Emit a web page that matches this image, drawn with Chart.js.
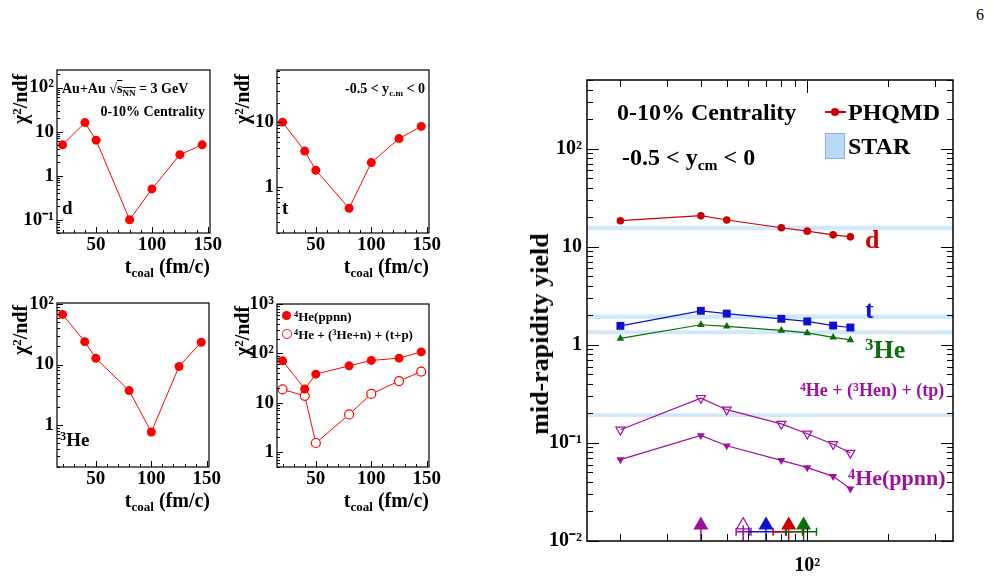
<!DOCTYPE html>
<html>
<head>
<meta charset="utf-8">
<script src="https://cdn.jsdelivr.net/npm/chart.js@4.4.0/dist/chart.umd.min.js"></script>
<style>
  body { margin: 0; width: 994px; height: 582px; position: relative; overflow: hidden; background: #fff;
         font-family: 'Liberation Serif', 'Times New Roman', serif; font-weight: bold; }
  canvas { position: absolute; }
  .lbl { position: absolute; white-space: nowrap; line-height: 1; }
  .lbl sup { font-size: 65%; vertical-align: 0.45em; line-height: 0; }
  .lbl sub { font-size: 65%; vertical-align: -0.3em; line-height: 0; }
  .sym { position: absolute; }
</style>
</head>
<body>
<canvas id="chiD"></canvas>
<canvas id="chiT"></canvas>
<canvas id="chiHe3"></canvas>
<canvas id="chiHe4"></canvas>
<canvas id="yields"></canvas>

<script>
'use strict';

const SERIF = "'Liberation Serif', 'Times New Roman', serif";

// coalescence times scanned (fm/c)
const tcoal = [20, 40, 50, 80, 100, 125, 145];

// chi2/ndf between PHQMD and STAR
const chi2D = [5.0, 16, 6.4, 0.1, 0.5, 3.0, 5.0];
const chi2T = [10, 3.6, 1.83, 0.48, 2.4, 5.6, 8.6];
const chi2He3 = [68, 24, 12.7, 3.7, 0.76, 9.3, 23.5];
const chi2He4 = [71, 19, 38, 56, 72, 80, 107];
const chi2He4Sum = [18.6, 13.8, 1.53, 5.8, 15.1, 27.5, 42.8];

// PHQMD mid-rapidity yields
const yieldD = [18.4, 20.7, 18.7, 15.6, 14.4, 13.2, 12.6];
const yieldT = [1.56, 2.22, 2.08, 1.84, 1.73, 1.57, 1.50];
const yieldHe3 = [1.16, 1.60, 1.54, 1.40, 1.32, 1.19, 1.12];
const yieldHe4Sum = [0.136, 0.286, 0.218, 0.156, 0.124, 0.097, 0.079];
const yieldHe4 = [0.0675, 0.119, 0.0936, 0.0664, 0.0559, 0.0456, 0.034];

// STAR bands: d, t, 3He, 4He
const starLow = [14.7, 1.83, 1.28, 0.184];
const starHigh = [16.3, 2.04, 1.41, 0.201];

// best t_coal per species (arrows) and their ranges
const bestTcoal = [40, 57.6, 70.1, 85.2, 96.9];
const bestLow = [null, 54.2, 60.5, 74.5, 83.5];
const bestHigh = [null, 61.6, 83, 96, 108.3];
const bestFilled = [true, false, true, true, true];
const arrowY = 0.0145;
const rangeY = 0.0124;

// tick labels
const chiXTicks = [50, 100, 150];
const chiDTicks = [0.1, 1, 10, 100];
const chiTTicks = [1, 10];
const chiHe3Ticks = [1, 10, 100];
const chiHe4Ticks = [1, 10, 100, 1000];
const yieldXTicks = [100];
const yieldYTicks = [0.01, 0.1, 1, 10, 100];
const yieldXRange = [15, 351];

const RED = '#ff0000';
const C_D = '#cc0000', C_T = '#1010d0', C_HE3 = '#0b6e0b', C_HE4 = '#a010a0';
const bestColors = [C_HE4, C_HE4, C_T, C_D, C_HE3];

const SUP = { '-': '\u207b', '0': '\u2070', '1': '\u00b9', '2': '\u00b2', '3': '\u00b3' };
function decade(v) {
  if (v === 1 || v === 10) return String(v);
  return '10' + String(Math.round(Math.log10(v))).split('').map(c => SUP[c]).join('');
}

function tickMarks(scale) {
  const out = [];
  if (scale.type === 'logarithmic') {
    const e0 = Math.floor(Math.log10(scale.min)), e1 = Math.ceil(Math.log10(scale.max));
    for (let e = e0; e <= e1; e++) {
      for (let k = 1; k < 10; k++) {
        const v = k * Math.pow(10, e);
        if (v >= scale.min * 0.999 && v <= scale.max * 1.001) out.push({ v, major: k === 1 });
      }
    }
  } else {
    for (let v = Math.ceil(scale.min / 10) * 10; v <= scale.max; v += 10) out.push({ v, major: v % 50 === 0 });
  }
  return out;
}

// ROOT style frame with inward ticks
const rootFrame = {
  id: 'rootFrame',
  afterDatasetsDraw(chart, args, o) {
    const { ctx, chartArea: a } = chart;
    const { x, y } = chart.scales;
    ctx.save();
    ctx.strokeStyle = '#000';
    ctx.lineWidth = 1;
    ctx.beginPath();
    tickMarks(x).forEach(t => {
      const p = Math.round(x.getPixelForValue(t.v)) + 0.5;
      const len = t.major ? o.xMajor : o.xMinor;
      ctx.moveTo(p, a.bottom); ctx.lineTo(p, a.bottom - len);
      if (o.mirror) { ctx.moveTo(p, a.top); ctx.lineTo(p, a.top + len); }
    });
    tickMarks(y).forEach(t => {
      const p = Math.round(y.getPixelForValue(t.v)) + 0.5;
      const len = t.major ? o.yMajor : o.yMinor;
      ctx.moveTo(a.left, p); ctx.lineTo(a.left + len, p);
      if (o.mirror) { ctx.moveTo(a.right, p); ctx.lineTo(a.right - len, p); }
    });
    ctx.stroke();
    ctx.lineWidth = o.frameWidth;
    ctx.strokeRect(a.left, a.top, a.right - a.left, a.bottom - a.top);
    ctx.restore();
  }
};
Chart.register(rootFrame);

function axis(dir, a, size) {
  return {
    type: a.type, min: a.min, max: a.max,
    position: dir === 'x' ? 'bottom' : 'left',
    grid: { display: false, drawTicks: false },
    border: { display: false },
    afterBuildTicks: s => { s.ticks = a.ticks.map(v => ({ value: v })); },
    afterFit: s => {
      if (dir === 'x') { s.height = size; s.paddingLeft = 0; s.paddingRight = 0; }
      else { s.width = size; s.paddingTop = 0; s.paddingBottom = 0; }
    },
    ticks: {
      autoSkip: false, maxRotation: 0, padding: a.pad, color: '#000',
      font: { family: SERIF, weight: 'bold', size: a.font },
      callback: v => a.type === 'logarithmic' ? decade(v) : String(v)
    }
  };
}

function panel(id, frame, cfg) {
  const canvas = document.getElementById(id);
  const padT = 14, padR = 24;
  canvas.width = frame.r - frame.l + cfg.yW + padR;
  canvas.height = frame.b - frame.t + padT + cfg.xH;
  canvas.style.left = (frame.l - cfg.yW) + 'px';
  canvas.style.top = (frame.t - padT) + 'px';
  return new Chart(canvas, {
    type: 'line',
    data: { datasets: cfg.datasets },
    options: {
      responsive: false, animation: false, devicePixelRatio: 1,
      layout: { padding: { top: padT, right: padR, left: 0, bottom: 0 } },
      plugins: { legend: { display: false }, tooltip: { enabled: false }, rootFrame: cfg.frame },
      scales: { x: axis('x', cfg.x, cfg.xH), y: axis('y', cfg.y, cfg.yW) }
    },
    plugins: cfg.plugins || []
  });
}

function chiSet(values, open) {
  return {
    data: tcoal.map((x, i) => ({ x, y: values[i] })),
    borderColor: RED, borderWidth: 1, tension: 0, clip: false,
    pointRadius: 4.5, pointHoverRadius: 4.5,
    pointBackgroundColor: open ? '#ffffff' : RED,
    pointBorderColor: RED, pointBorderWidth: open ? 1.2 : 0
  };
}

const smallFrame = { mirror: false, xMajor: 6, xMinor: 3, yMajor: 6, yMinor: 3, frameWidth: 1.2 };
const chiX = { type: 'linear', min: 15, max: 152, ticks: chiXTicks, pad: 1, font: 19 };
const chiY = (min, max, ticks) => ({ type: 'logarithmic', min, max, ticks, pad: 3, font: 19 });

panel('chiD', { l: 57, t: 70, r: 210, b: 233 }, {
  yW: 57, xH: 30, frame: smallFrame, x: chiX, y: chiY(0.05, 250, chiDTicks),
  datasets: [chiSet(chi2D)]
});
panel('chiT', { l: 277, t: 70, r: 429, b: 233 }, {
  yW: 57, xH: 30, frame: smallFrame, x: chiX, y: chiY(0.2, 63, chiTTicks),
  datasets: [chiSet(chi2T)]
});
panel('chiHe3', { l: 57, t: 303, r: 209, b: 467 }, {
  yW: 57, xH: 30, frame: smallFrame, x: chiX, y: chiY(0.2, 105, chiHe3Ticks),
  datasets: [chiSet(chi2He3)]
});
panel('chiHe4', { l: 277, t: 304, r: 429, b: 467 }, {
  yW: 57, xH: 30, frame: smallFrame, x: chiX, y: chiY(0.5, 1000, chiHe4Ticks),
  datasets: [chiSet(chi2He4), chiSet(chi2He4Sum, true)]
});

// yields panel
function yieldSet(values, color, style, radius, opts = {}) {
  return {
    data: tcoal.map((x, i) => ({ x, y: values[i] })),
    borderColor: color, borderWidth: 1.2, tension: 0, clip: false,
    pointStyle: style, pointRadius: radius, pointHoverRadius: radius,
    pointRotation: opts.rot || 0,
    pointBackgroundColor: opts.open ? 'rgba(255,255,255,0)' : color,
    pointBorderColor: color, pointBorderWidth: opts.open ? 1.2 : 0
  };
}

const bandSets = [];
starLow.forEach((lo, i) => {
  bandSets.push({
    data: yieldXRange.map(x => ({ x, y: lo })),
    borderWidth: 0, pointRadius: 0, fill: false
  });
  bandSets.push({
    data: yieldXRange.map(x => ({ x, y: starHigh[i] })),
    borderWidth: 0, pointRadius: 0, fill: '-1',
    backgroundColor: 'rgba(196,226,249,0.8)'
  });
});

const bestRanges = {
  id: 'bestRanges',
  beforeDatasetsDraw(chart) {
    const { ctx } = chart;
    const { x, y } = chart.scales;
    const yTri = y.getPixelForValue(arrowY), yBar = y.getPixelForValue(rangeY);
    ctx.save();
    ctx.lineWidth = 1.5;
    bestTcoal.forEach((t, i) => {
      ctx.strokeStyle = bestColors[i];
      const px = x.getPixelForValue(t);
      ctx.beginPath();
      ctx.moveTo(px, y.bottom); ctx.lineTo(px, yTri);
      if (bestLow[i] !== null) {
        const l = x.getPixelForValue(bestLow[i]), r = x.getPixelForValue(bestHigh[i]);
        ctx.moveTo(l, yBar); ctx.lineTo(r, yBar);
        ctx.moveTo(l, yBar - 4); ctx.lineTo(l, yBar + 4);
        ctx.moveTo(r, yBar - 4); ctx.lineTo(r, yBar + 4);
      }
      ctx.stroke();
    });
    ctx.restore();
  }
};

panel('yields', { l: 587, t: 80, r: 953, b: 541 }, {
  yW: 62, xH: 40,
  frame: { mirror: true, xMajor: 13, xMinor: 7, yMajor: 12, yMinor: 6, frameWidth: 1.5 },
  x: { type: 'logarithmic', min: yieldXRange[0], max: yieldXRange[1], ticks: yieldXTicks, pad: 13, font: 20 },
  y: { type: 'logarithmic', min: 0.01, max: 500, ticks: yieldYTicks, pad: 5, font: 20 },
  plugins: [bestRanges],
  datasets: [
    yieldSet(yieldD, C_D, 'circle', 3.8),
    yieldSet(yieldT, C_T, 'rect', 5.6),
    yieldSet(yieldHe3, C_HE3, 'triangle', 4.4),
    yieldSet(yieldHe4Sum, C_HE4, 'triangle', 5.2, { rot: 180, open: true }),
    yieldSet(yieldHe4, C_HE4, 'triangle', 4.6, { rot: 180 }),
    {
      data: bestTcoal.map(x => ({ x, y: arrowY })),
      showLine: false, clip: false,
      pointStyle: 'triangle', pointRadius: 7.5, pointHoverRadius: 7.5,
      pointBackgroundColor: bestColors.map((c, i) => bestFilled[i] ? c : 'rgba(255,255,255,0)'),
      pointBorderColor: bestColors, pointBorderWidth: 1.2
    },
    ...bandSets
  ]
});

// text
function addText(html, x, y, size, opt = {}) {
  const d = document.createElement('div');
  d.className = 'lbl';
  d.innerHTML = html;
  d.style.left = x + 'px';
  d.style.top = y + 'px';
  d.style.fontSize = size + 'px';
  d.style.color = opt.color || '#000';
  if (opt.weight) d.style.fontWeight = opt.weight;
  const ax = { l: '0', c: '-50%', r: '-100%' }[opt.anchor || 'l'];
  d.style.transform = `translate(${ax}, -50%)` + (opt.rot ? ' rotate(-90deg)' : '');
  document.body.appendChild(d);
}

const chiTitle = '&chi;<sup>2</sup>/ndf';
const tTitle = 't<sub>coal</sub> (fm/c)';
addText(chiTitle, 20, 99, 20, { anchor: 'c', rot: true });
addText(chiTitle, 242, 99, 20, { anchor: 'c', rot: true });
addText(chiTitle, 20, 330, 20, { anchor: 'c', rot: true });
addText(chiTitle, 242, 331, 20, { anchor: 'c', rot: true });
addText(tTitle, 210, 266, 20, { anchor: 'r' });
addText(tTitle, 429, 266, 20, { anchor: 'r' });
addText(tTitle, 210, 500, 20, { anchor: 'r' });
addText(tTitle, 429, 500, 20, { anchor: 'r' });

addText('Au+Au &radic;<span style="text-decoration:overline">s<sub>NN</sub></span> = 3 GeV', 62, 89, 14);
addText('0-10% Centrality', 205, 112, 14, { anchor: 'r' });
addText('d', 62, 207, 19);
addText('-0.5 &lt; y<sub>c.m</sub> &lt; 0', 425, 89, 14, { anchor: 'r' });
addText('t', 282, 207, 19);
addText('<sup>3</sup>He', 60, 439, 19);
addText('<sup>4</sup>He(ppnn)', 294, 316, 13);
addText('<sup>4</sup>He + (<sup>3</sup>He+n) + (t+p)', 294, 334, 13);

addText('mid-rapidity yield', 540, 334, 26, { anchor: 'c', rot: true });
addText('0-10% Centrality', 617, 112, 24);
addText('-0.5 &lt; y<sub>cm</sub> &lt; 0', 622, 157, 24);
addText('PHQMD', 848, 112, 24);
addText('STAR', 848, 146, 24);
addText('d', 865, 240, 26, { color: C_D });
addText('t', 865, 310, 26, { color: C_T });
addText('<sup>3</sup>He', 865, 350, 26, { color: C_HE3 });
addText('<sup>4</sup>He + (<sup>3</sup>Hen) + (tp)', 800, 390, 18, { color: C_HE4 });
addText('<sup>4</sup>He(ppnn)', 848, 478, 22, { color: C_HE4 });
addText('6', 980, 15, 16, { anchor: 'c', weight: 'normal' });

// legend symbols
function sym(css) {
  const d = document.createElement('div');
  d.className = 'sym';
  d.style.cssText += css;
  document.body.appendChild(d);
}
sym('left:825px;top:111px;width:21px;height:1.5px;background:' + C_D);
sym('left:831px;top:108px;width:8px;height:8px;border-radius:50%;background:' + C_D);
sym('left:825px;top:133px;width:18px;height:24px;background:#b8dcf8;border:1px solid #8fa8ef');
sym('left:282px;top:311px;width:9px;height:9px;border-radius:50%;background:' + RED);
sym('left:282px;top:329px;width:7.6px;height:7.6px;border-radius:50%;border:1.2px solid ' + RED);
</script>
</body>
</html>
